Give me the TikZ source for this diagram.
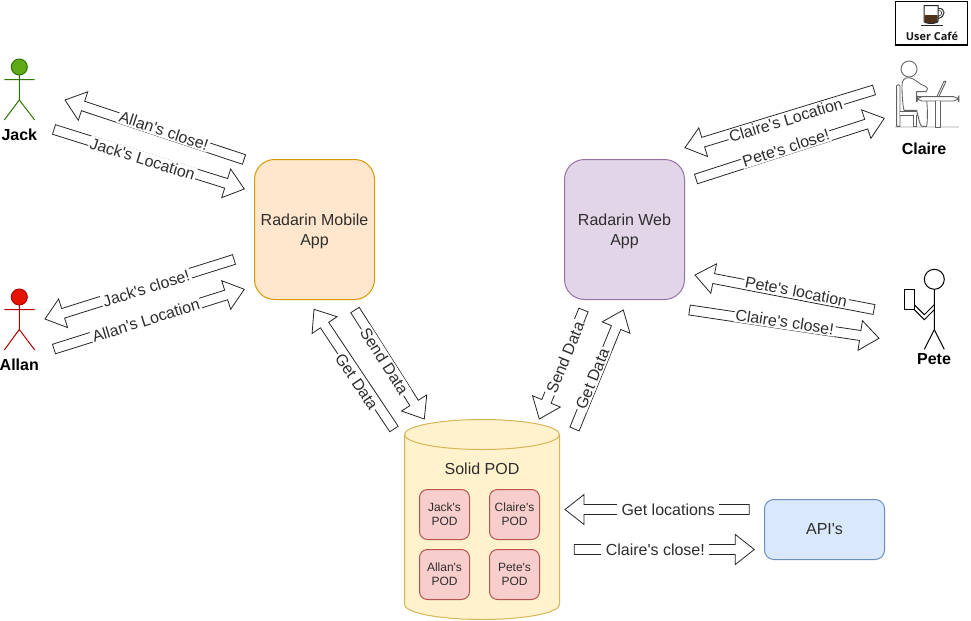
\documentclass[tikz,border=0pt]{standalone}
\usepackage{fontspec}
\setmainfont{Liberation Sans}[Ligatures=TeXOff]
\newfontfamily\cafefont{Open Sans}
\usetikzlibrary{calc}
\definecolor{lbl}{HTML}{2E2E2E}
\newcommand{\upstrut}{\rule{0pt}{11pt}}
\tikzset{
  flowbody/.style={draw=black!85,fill=white,line width=0.6pt,line join=miter},
  flowlabel/.style={font=\fontsize{12}{14}\selectfont,text=lbl,fill=white,inner xsep=1pt,inner ysep=1pt,sloped},
  flatlabel/.style={inner xsep=3.2pt},
  app/.style={draw,line width=0.75pt,rounded corners=15pt,minimum width=90pt,minimum height=105pt,align=center,inner sep=0pt,text=lbl,font=\fontsize{12}{15}\selectfont},
  apibox/.style={draw=apistroke,fill=apifill,line width=0.75pt,rounded corners=7pt,minimum width=90pt,minimum height=45pt,text=lbl,font=\fontsize{12}{15}\selectfont},
  podbox/.style={draw=podstroke,fill=podfill,line width=0.75pt,rounded corners=6pt,minimum width=37.5pt,minimum height=37.5pt,align=center,inner sep=0pt,text=lbl,font=\fontsize{9}{10.5}\selectfont},
  actorname/.style={font=\fontsize{12}{14}\selectfont\bfseries,text=black},
  stick/.style={line width=0.75pt},
  sketch/.style={draw=black!62,line width=0.65pt,fill=white,line join=round,line cap=round}
}
\definecolor{apistroke}{HTML}{6C8EBF}\definecolor{apifill}{HTML}{DAE8FC}
\definecolor{podstroke}{HTML}{B85450}\definecolor{podfill}{HTML}{F8CECC}
% #1 name, #2 tail coordinate, #3 tip coordinate, #4 label options (position), #5 label shift, #6 label
\newcommand{\blockarrow}[6]{%
  \coordinate (#1base) at ($(#3)!14.25pt!(#2)$);
  \draw[flowbody]
    ($(#2)!3.75pt!90:(#3)$) -- ($(#1base)!3.75pt!90:(#3)$) -- ($(#1base)!11.25pt!90:(#3)$)
    -- (#3) -- ($(#1base)!11.25pt!-90:(#3)$) -- ($(#1base)!3.75pt!-90:(#3)$) -- ($(#2)!3.75pt!-90:(#3)$) -- cycle;
  \path ([shift={#5}]#2) -- node[flowlabel,#4] (#1label) {#6} ([shift={#5}]#3);
}
\begin{document}
\begin{tikzpicture}[x=0.75pt,y=-0.75pt]
\useasboundingbox (0,0) rectangle (971,621);
\fill[white] (0,0) rectangle (971,621);

% Apps
\node[app,fill={rgb,255:red,255;green,230;blue,204},draw={rgb,255:red,215;green,155;blue,0}] (mobile) at (314.5,229.5) {\upstrut Radarin Mobile\\App};
\node[app,fill={rgb,255:red,225;green,213;blue,231},draw={rgb,255:red,150;green,115;blue,166}] (web) at (624.5,229.5) {\upstrut Radarin Web\\App};
\node[apibox] (api) at (824.5,529.5) {API's};

% Cylinder
\draw[line width=0.75pt,draw={rgb,255:red,214;green,182;blue,86},fill={rgb,255:red,255;green,242;blue,204}]
  (404.5,434.5) arc[start angle=180,end angle=0,x radius=77.5,y radius=-15]
  -- (559.5,604.5) arc[start angle=0,end angle=-180,x radius=77.5,y radius=-15] -- cycle;
\draw[line width=0.75pt,draw={rgb,255:red,214;green,182;blue,86}]
  (404.5,434.5) arc[start angle=180,end angle=360,x radius=77.5,y radius=-15];
\node[font=\fontsize{12}{15}\selectfont,text=lbl] (solid) at (482,469) {Solid POD};
\node[podbox] (jackpod) at (444.5,514.5) {Jack's\\POD};
\node[podbox] (clairepod) at (514.5,514.5) {Claire's\\POD};
\node[podbox] (allanpod) at (444.5,574.5) {Allan's\\POD};
\node[podbox] (petepod) at (514.5,574.5) {Pete's\\POD};

% Arrow ends
\coordinate (a1t) at (244,159.5); \coordinate (a1h) at (65,100);
\coordinate (a2t) at (54,129.5);  \coordinate (a2h) at (244.3,189);
\coordinate (a3t) at (234,259.5); \coordinate (a3h) at (45,319);
\coordinate (a4t) at (54,349);    \coordinate (a4h) at (244.3,289.3);
\coordinate (a5t) at (874,90);    \coordinate (a5h) at (685,147.7);
\coordinate (a6t) at (696,179);   \coordinate (a6h) at (884.3,118.3);
\coordinate (a7t) at (874,309.5); \coordinate (a7h) at (695,275);
\coordinate (a8t) at (689.5,310); \coordinate (a8h) at (879,338.3);
\coordinate (a9t) at (394,429);   \coordinate (a9h) at (314,309.3);
\coordinate (a10t) at (355,310);  \coordinate (a10h) at (424.3,419);
\coordinate (a11t) at (583.5,310);\coordinate (a11h) at (539.3,419);
\coordinate (a12t) at (574.5,429);\coordinate (a12h) at (623.3,310);
\coordinate (a13t) at (749.3,509.5);\coordinate (a13h) at (565,509.5);
\coordinate (a14t) at (574.3,549.5);\coordinate (a14h) at (754.3,549.5);

\blockarrow{a1}{a1t}{a1h}{pos=0.45}{(0.5,-2)}{Allan's close!}
\blockarrow{a2}{a2t}{a2h}{pos=0.46}{(1,2)}{Jack's Location}
\blockarrow{a3}{a3t}{a3h}{pos=0.467}{(0.5,1)}{Jack's close!}
\blockarrow{a4}{a4t}{a4h}{pos=0.488}{(-1,0.5)}{Allan's Location}
\blockarrow{a5}{a5t}{a5h}{pos=0.47}{(0.5,3)}{Claire's Location}
\blockarrow{a6}{a6t}{a6h}{pos=0.48}{(-0.5,-2)}{Pete's close!}
\blockarrow{a7}{a7t}{a7h}{pos=0.44}{(1,-3)}{Pete's location}
\blockarrow{a8}{a8t}{a8h}{pos=0.495}{(1.5,-2)}{Claire's close!}
\blockarrow{a9}{a9t}{a9h}{pos=0.475}{(0.7,9.5)}{Get Data}
\blockarrow{a10}{a10t}{a10h}{pos=0.47}{(-3,0)}{Send Data}
\blockarrow{a11}{a11t}{a11h}{pos=0.45}{(1.5,-1.5)}{Send Data}
\blockarrow{a12}{a12t}{a12h}{pos=0.42}{(-2.5,0)}{Get Data}
\blockarrow{a13}{a13t}{a13h}{pos=0.44,flatlabel}{(0,0.7)}{Get locations}
\blockarrow{a14}{a14t}{a14h}{pos=0.45,flatlabel}{(0,0)}{Claire's close!}

% Jack
\begin{scope}[stick,draw={rgb,255:red,45;green,118;blue,0}]
  \draw (19.3,75) -- (19.3,100) (4.3,79.5) -- (34.7,79.5) (4.3,120) -- (19.3,100) -- (34.7,120);
  \draw[fill={rgb,255:red,96;green,169;blue,23}] (19.3,67) circle[radius=8];
\end{scope}
\node[actorname] (jack) at (19.3,135) {Jack};
% Allan
\begin{scope}[stick,draw={rgb,255:red,178;green,0;blue,0}]
  \draw (19.3,305) -- (19.3,329.5) (4.3,309.5) -- (34.7,309.5) (4.3,350) -- (19.3,329.5) -- (34.7,350);
  \draw[fill={rgb,255:red,229;green,20;blue,0}] (19.3,297) circle[radius=8];
\end{scope}
\node[actorname] (allan) at (19.3,365) {Allan};
% Pete
\begin{scope}[stick,draw=black]
  \draw (934.3,289.5) -- (934.3,329.7) (924.3,349.3) -- (934.3,329.7) -- (944.3,349.3);
  \draw (934.3,279.3) circle[radius=10];
  \draw (904.3,289.3) rectangle (914.3,309.3);
  \draw (914.3,304.7) -- (924.3,314.7) -- (934.3,304.7);
  \draw (914.3,309.7) -- (924.3,319.7) -- (934.3,309.7);
\end{scope}
\node[actorname] (pete) at (934,359.5) {Pete};

% Claire at her table (units: 1/3 px, origin 890,55)
\begin{scope}[shift={(890,55)},x=0.25pt,y=-0.25pt]
  \draw[draw=black!12,line width=0.8pt] (15,216) -- (207,216);
  \draw[sketch] (20,92) .. controls (20,88) and (30,88) .. (30,92) -- (30,214) -- (20,214) -- cycle;
  \draw[sketch] (30,170) -- (82,170) -- (82,180) -- (30,180);
  \draw[sketch] (70,180) -- (70,214) -- (80,214) -- (80,180);
  \draw[sketch] (57,68) .. controls (42,68) and (36,76) .. (36,92)
     .. controls (36,120) and (38,150) .. (42,166) -- (80,166)
     .. controls (86,190) and (90,214) .. (96,214) -- (110,214) .. controls (114,190) and (112,140) .. (108,125)
     -- (80,125) -- (80,110) -- (108,110) .. controls (114,106) and (114,98) .. (106,94)
     .. controls (90,90) and (72,68) .. (57,68) -- cycle;
  \draw[sketch] (57,42) circle[radius=24];
  \draw[sketch] (142,122) -- (162,79) -- (168,79) -- (148,122);
  \draw[draw=black!80,line width=0.7pt] (100,123) -- (148,123);
  \draw[sketch,rounded corners=4pt] (80,125) -- (207,125) -- (207,138) -- (80,138) -- cycle;
  \draw[sketch] (135,138) -- (135,216) -- (150,216) -- (150,138);
\end{scope}
\node[actorname] (claire) at (924,149) {Claire};

% User Cafe sign
\draw[line width=1.2pt,draw=black,fill=white] (895.5,1.5) rectangle (967.5,45);
\fill[black!60!brown] (924.5,15) -- (937.5,15) -- (937.5,22) .. controls (937,23.6) and (925,23.6) .. (924.5,22) -- cycle;
\draw[line width=0.75pt,draw=black!85] (924,5.5) -- (924,21) .. controls (924,24.2) and (938,24.2) .. (938,21) -- (938,5.5) -- cycle;
\draw[line width=0.8pt,draw=black!80] (938,8.5) .. controls (946,7.5) and (946,17) .. (938,18.5);
\draw[line width=0.5pt,draw=black!80] (938,10.5) .. controls (943,10) and (943,15.5) .. (938,16.5);
\draw[line width=1pt,draw=black!85] (921,25.5) -- (943,25.5);
\node[font=\cafefont\fontsize{8.2}{10}\selectfont\bfseries,text=black!90,inner sep=0pt] (cafe) at (932,36) {User Café};
\end{tikzpicture}
\end{document}
